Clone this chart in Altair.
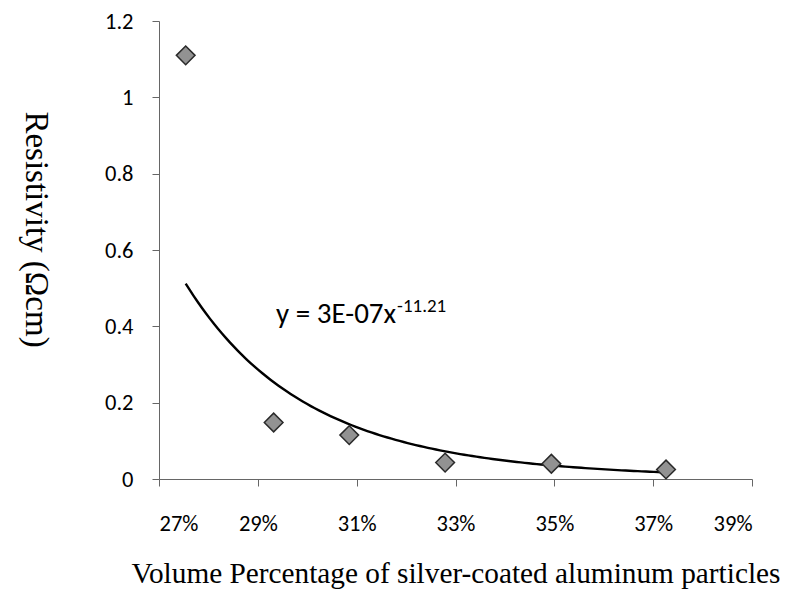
import altair as alt
import numpy as np
import pandas as pd

# Measured samples: volume fraction of silver-coated Al particles vs resistivity
volume_fraction = [0.2754, 0.2932, 0.3085, 0.3279, 0.3494, 0.3726]
resistivity = [1.11, 0.148, 0.115, 0.043, 0.040, 0.025]

# Power-law trendline y = a * x^b
coef_a = 2.7e-7
exponent_b = -11.21

x_ticks = [0.27, 0.29, 0.31, 0.33, 0.35, 0.37, 0.39]
y_ticks = [0, 0.2, 0.4, 0.6, 0.8, 1.0, 1.2]

label_font = "Carlito, Lato, sans-serif"
title_font = "Liberation Serif, Times New Roman, serif"

points = pd.DataFrame({"vol": volume_fraction, "rho": resistivity})

xs = np.linspace(min(volume_fraction), max(volume_fraction), 120)
trend = pd.DataFrame({"vol": xs, "rho": coef_a * xs ** exponent_b})

eq_main = f"y = {coef_a:.0E}x"
eq_sup = f"{exponent_b:.2f}"
eq = pd.DataFrame({"vol": [0.2937], "rho": [0.409], "main": [eq_main], "sup": [eq_sup]})

axis_common = dict(
    titleFont=title_font,
    titleFontWeight="normal",
    titleColor="#000",
    labelFont=label_font,
    labelFontSize=22.5,
    labelColor="#000",
    tickSize=7,
    tickColor="#666",
    domainColor="#666",
    domainWidth=1,
    grid=False,
)

x_enc = alt.X(
    "vol:Q",
    scale=alt.Scale(domain=[0.27, 0.39], nice=False, zero=False),
    axis=alt.Axis(
        values=x_ticks,
        format=".0%",
        title="Volume Percentage of silver-coated aluminum particles",
        titleFontSize=29.3,
        titleY=103,
        titleBaseline="alphabetic",
        labelPadding=26,
        **axis_common,
    ),
)
y_enc = alt.Y(
    "rho:Q",
    scale=alt.Scale(domain=[0, 1.2], nice=False),
    axis=alt.Axis(
        values=y_ticks,
        format="~g",
        title="Resistivity (Ωcm)",
        titleFontSize=33,
        titleAngle=90,
        titleX=-124,
        titleY=208,
        titleBaseline="middle",
        labelPadding=19,
        **axis_common,
    ),
)

curve = alt.Chart(trend).mark_line(color="#000", strokeWidth=2.4).encode(x=x_enc, y=y_enc)

dots = alt.Chart(points).mark_point(
    shape="diamond", filled=True, size=350, fill="#929292", stroke="#2a2a2a", strokeWidth=1.5, opacity=1
).encode(x="vol:Q", y="rho:Q")

eq_text = alt.Chart(eq).mark_text(
    align="left", baseline="alphabetic", font=label_font, fontSize=29, color="#000"
).encode(x="vol:Q", y="rho:Q", text="main:N")

eq_sup_text = alt.Chart(eq).mark_text(
    align="left", baseline="alphabetic", font=label_font, fontSize=19, color="#000", dx=121, dy=-11
).encode(x="vol:Q", y="rho:Q", text="sup:N")

chart = (
    alt.layer(curve, dots, eq_text, eq_sup_text)
    .properties(
        width=593,
        height=458,
        autosize=alt.AutoSizeParams(type="none"),
        padding={"left": 159, "top": 21, "right": 54, "bottom": 126},
        background="#ffffff",
    )
    .configure_view(stroke=None)
)

chart.save("out.html", embed_options={"renderer": "svg", "actions": False})
